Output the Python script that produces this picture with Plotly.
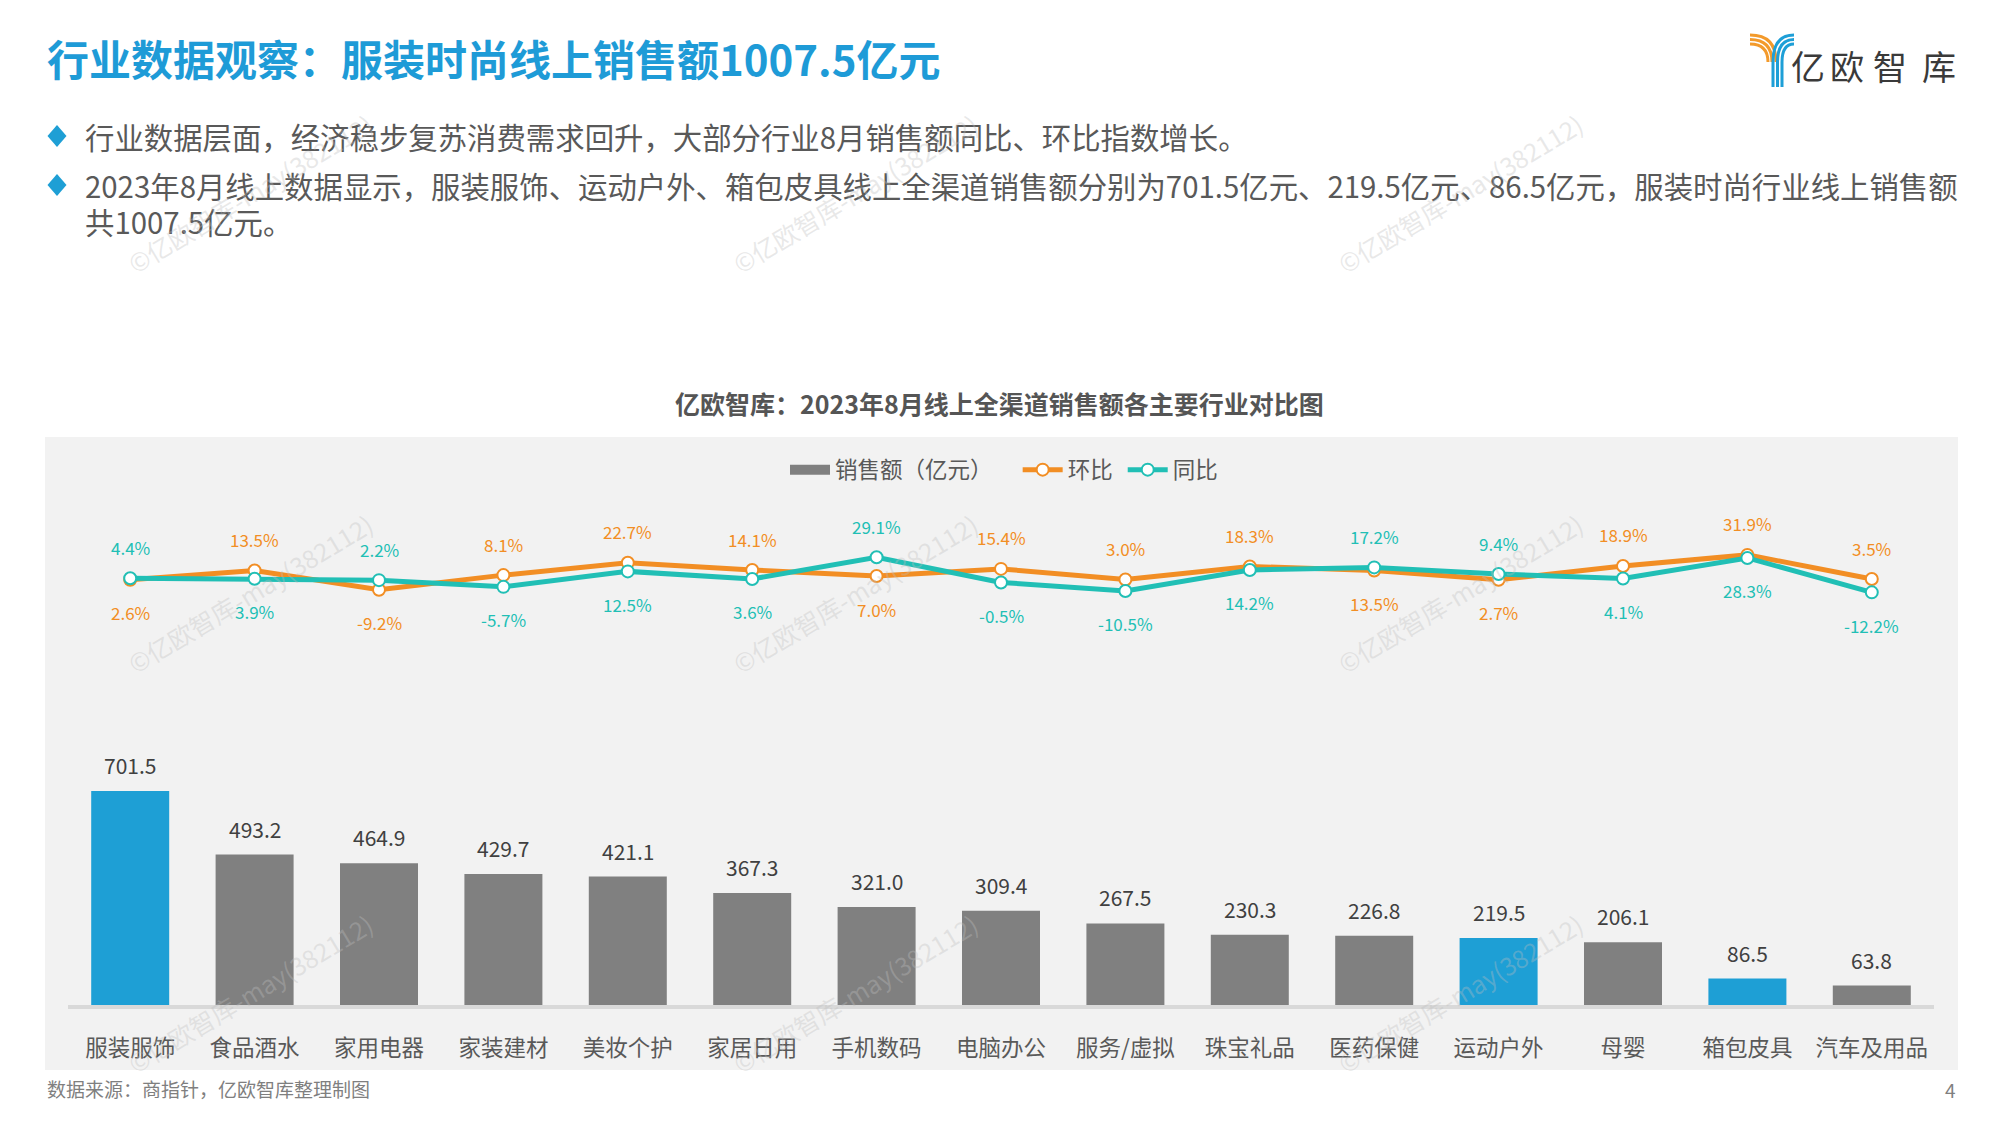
import plotly.graph_objects as go

# ---------------- data ----------------
categories = ["服装服饰", "食品酒水", "家用电器", "家装建材", "美妆个护", "家居日用", "手机数码",
              "电脑办公", "服务/虚拟", "珠宝礼品", "医药保健", "运动户外", "母婴", "箱包皮具", "汽车及用品"]
sales = [701.5, 493.2, 464.9, 429.7, 421.1, 367.3, 321.0, 309.4, 267.5, 230.3, 226.8, 219.5, 206.1, 86.5, 63.8]
highlight = [True, False, False, False, False, False, False, False, False, False, False, True, False, True, False]
mom = [2.6, 13.5, -9.2, 8.1, 22.7, 14.1, 7.0, 15.4, 3.0, 18.3, 13.5, 2.7, 18.9, 31.9, 3.5]     # 环比
yoy = [4.4, 3.9, 2.2, -5.7, 12.5, 3.6, 29.1, -0.5, -10.5, 14.2, 17.2, 9.4, 4.1, 28.3, -12.2]  # 同比

title_text = "行业数据观察：服装时尚线上销售额1007.5亿元"
bullet_lines = [
    "行业数据层面，经济稳步复苏消费需求回升，大部分行业8月销售额同比、环比指数增长。",
    "2023年8月线上数据显示，服装服饰、运动户外、箱包皮具线上全渠道销售额分别为701.5亿元、219.5亿元、86.5亿元，服装时尚行业线上销售额",
    "共1007.5亿元。",
]
chart_title = "亿欧智库：2023年8月线上全渠道销售额各主要行业对比图"
legend_names = ["销售额（亿元）", "环比", "同比"]
source_text = "数据来源：商指针，亿欧智库整理制图"
page_no = "4"
watermark = "©亿欧智库-may(382112)"

# ---------------- style ----------------
FONT = "Noto Sans CJK SC"
BLUE = "#1E9FD5"
GRAY = "#808080"
ORANGE = "#F28E24"
TEAL = "#21BFB5"
TXT = "#595959"
NB = "\u00a0"

OFF = 8                      # page body margin
W, H = 2000 - 2 * OFF, 1125 - 2 * OFF
L, R, T, B = 68, 1934, 500, 1005   # plot area in page pixels


def px(p):
    return (p - L) / (R - L)


def py(p):
    return (B - p) / (B - T)


bar_scale = 0.305
line_scale = 0.85
line_zero_px = 582
bar_range = [0, (B - T) / bar_scale]
line_range = [-(B - line_zero_px) / line_scale, (line_zero_px - T) / line_scale]

fig = go.Figure()

gray_x = [c for c, h in zip(categories, highlight) if not h]
gray_y = [v for v, h in zip(sales, highlight) if not h]
blue_x = [c for c, h in zip(categories, highlight) if h]
blue_y = [v for v, h in zip(sales, highlight) if h]

# legend entry for the bars (wide grey swatch)
fig.add_trace(go.Scatter(x=[None], y=[None], mode="lines", name=legend_names[0] + NB * 4, legendgroup="sales",
                         line=dict(color=GRAY, width=12), hoverinfo="skip"))
fig.add_trace(go.Bar(x=gray_x, y=gray_y, name=legend_names[0], legendgroup="sales", showlegend=False,
                     marker=dict(color=GRAY, line=dict(width=0)), hoverinfo="x+y"))
fig.add_trace(go.Bar(x=blue_x, y=blue_y, name=legend_names[0], legendgroup="sales", showlegend=False,
                     marker=dict(color=BLUE, line=dict(width=0)), hoverinfo="x+y"))
fig.add_trace(go.Scatter(x=categories, y=mom, name=legend_names[1] + NB, yaxis="y2", mode="lines+markers",
                         line=dict(color=ORANGE, width=5),
                         marker=dict(size=12, color="white", line=dict(color=ORANGE, width=2))))
fig.add_trace(go.Scatter(x=categories, y=yoy, name=legend_names[2], yaxis="y2", mode="lines+markers",
                         line=dict(color=TEAL, width=5),
                         marker=dict(size=12, color="white", line=dict(color=TEAL, width=2))))

annotations = []
for c, v in zip(categories, sales):
    annotations.append(dict(x=c, y=v, xref="x", yref="y", text=f"{v:.1f}", showarrow=False,
                            xanchor="center", yanchor="middle", yshift=26,
                            font=dict(family=FONT, size=21, color="#404040")))
for c, a, b in zip(categories, mom, yoy):
    a_up = a > b
    for v, col, up in ((a, ORANGE, a_up), (b, TEAL, not a_up)):
        annotations.append(dict(x=c, y=v, xref="x", yref="y2", text=f"{v:.1f}%", showarrow=False,
                                xanchor="center", yanchor="middle", yshift=31 if up else -33,
                                font=dict(family=FONT, size=17, color=col)))


def page_text(x, y, text, size, color, xanchor="left", **kw):
    return dict(x=px(x), y=py(y), xref="paper", yref="paper", xanchor=xanchor, yanchor="middle",
                text=text, showarrow=False, font=dict(family=FONT, size=size, color=color), **kw)


annotations.append(page_text(45, 57, f"<b>{title_text}</b>", 42, "#1E9BD7"))
for yy, line in zip([136, 185, 221], bullet_lines):
    annotations.append(page_text(83, yy, line, 29.4, TXT))
annotations.append(page_text(999, 403, f"<b>{chart_title}</b>", 25, "#555555", xanchor="center"))
annotations.append(page_text(45, 1088, source_text, 19, "#7F7F7F"))
annotations.append(page_text(1950, 1089, page_no, 19, "#7F7F7F", xanchor="center"))
for ch, cx in zip("亿欧智库", [1808, 1847, 1890, 1939]):
    annotations.append(page_text(cx, 66, ch, 34, "#3A3A3A", xanchor="center"))
for wx in [250, 855, 1460]:
    for wy in [193, 593, 993]:
        annotations.append(page_text(wx, wy, watermark, 25, "rgba(190,190,190,0.35)",
                                     xanchor="center", textangle=-31))

shapes = []
shapes.append(dict(type="rect", xref="paper", yref="paper", x0=px(45), x1=px(1958), y0=py(437), y1=py(1070),
                   fillcolor="#F2F2F2", line=dict(width=0), layer="below"))
for yy in [136, 185]:
    path = (f"M {px(57)},{py(yy - 11)} L {px(66.5)},{py(yy)} L {px(57)},{py(yy + 11)} "
            f"L {px(47.5)},{py(yy)} Z")
    shapes.append(dict(type="path", xref="paper", yref="paper", path=path, fillcolor=BLUE,
                       line=dict(width=0)))
for i in range(3):
    y0 = 35 + 4.5 * i
    xe = 1776 - 4 * i
    path = f"M {px(1750)},{py(y0)} Q {px(xe)},{py(y0)} {px(xe)},{py(62)}"
    shapes.append(dict(type="path", xref="paper", yref="paper", path=path,
                       line=dict(color="#F39A2B", width=3)))
for i in range(3):
    xv = 1773 + 4.5 * i
    ye = 35 + 4.5 * i
    path = (f"M {px(xv)},{py(87)} L {px(xv)},{py(62)} "
            f"Q {px(xv)},{py(ye)} {px(1794)},{py(ye)}")
    shapes.append(dict(type="path", xref="paper", yref="paper", path=path,
                       line=dict(color="#1E9FD7", width=3)))

fig.update_layout(
    width=W, height=H,
    margin=dict(l=L - OFF, r=W - (R - OFF), t=T - OFF, b=H - (B - OFF), autoexpand=False),
    paper_bgcolor="white", plot_bgcolor="rgba(0,0,0,0)",
    barmode="overlay", bargap=0.373,
    font=dict(family=FONT, color=TXT),
    showlegend=True,
    legend=dict(orientation="h", x=px(1004), y=py(470), xanchor="center", yanchor="middle",
                font=dict(family=FONT, size=22.5, color=TXT), bgcolor="rgba(0,0,0,0)",
                itemwidth=40, traceorder="normal"),
    xaxis=dict(type="category", categoryorder="array", categoryarray=categories,
               range=[-0.5, len(categories) - 0.5], showgrid=False, zeroline=False,
               showline=True, linecolor="#D9D9D9", linewidth=4, ticks="",
               tickfont=dict(family=FONT, size=22.5, color=TXT), ticklabelstandoff=20),
    yaxis=dict(range=bar_range, visible=False, showgrid=False, zeroline=False),
    yaxis2=dict(range=line_range, overlaying="y", visible=False, showgrid=False, zeroline=False),
    annotations=annotations,
    shapes=shapes,
)

fig.write_html("out.html")
